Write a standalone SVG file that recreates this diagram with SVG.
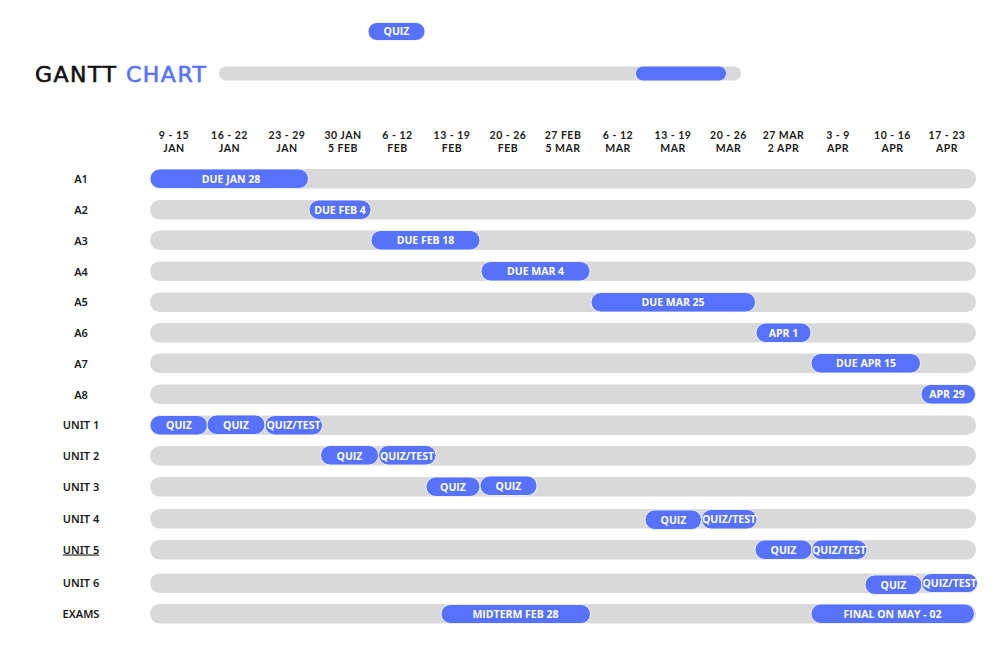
<svg xmlns="http://www.w3.org/2000/svg" width="1000" height="650" viewBox="0 0 1000 650">
<style>
.bg{fill:#d9d9d9}
.pill{fill:#5672fe;stroke:#ffffff;stroke-width:0.8}
.pt{font-family:"Open Sans","Noto Sans",sans-serif;font-weight:700;font-size:10.5px;fill:#ffffff;text-anchor:middle}
.hd{font-family:Lato,"Noto Sans",sans-serif;font-weight:700;font-size:10.5px;letter-spacing:0.5px;fill:#1a1a1a;text-anchor:middle}
.rl{font-family:"Noto Sans",Lato,sans-serif;font-weight:600;font-size:11px;fill:#1a1a1a;text-anchor:middle}
.title{font-family:"DejaVu Sans","Noto Sans",sans-serif;font-weight:400;font-size:22px;stroke-width:0.6}
</style>
<rect width="1000" height="650" fill="#ffffff"/>

<g id="legend-quiz">
  <rect class="pill" x="368" y="22.5" width="57" height="18" rx="9"/>
  <text class="pt" x="396.5" y="35">QUIZ</text>
</g>

<g id="title">
  <text class="title" x="35" y="82" textLength="171" lengthAdjust="spacing"><tspan fill="#111111" stroke="#111111">GANTT</tspan> <tspan fill="#5672fe" stroke="#5672fe">CHART</tspan></text>
  <rect class="bg" x="219" y="66.5" width="522" height="14" rx="7"/>
  <rect fill="#5672fe" x="636" y="66.5" width="90" height="14" rx="7"/>
</g>

<g id="headers">
  <text class="hd" x="174" y="139">9 - 15</text><text class="hd" x="174" y="152">JAN</text>
  <text class="hd" x="229.5" y="139">16 - 22</text><text class="hd" x="229.5" y="152">JAN</text>
  <text class="hd" x="287" y="139">23 - 29</text><text class="hd" x="287" y="152">JAN</text>
  <text class="hd" x="343" y="139">30 JAN</text><text class="hd" x="343" y="152">5 FEB</text>
  <text class="hd" x="397.5" y="139">6 - 12</text><text class="hd" x="397.5" y="152">FEB</text>
  <text class="hd" x="452" y="139">13 - 19</text><text class="hd" x="452" y="152">FEB</text>
  <text class="hd" x="508" y="139">20 - 26</text><text class="hd" x="508" y="152">FEB</text>
  <text class="hd" x="563" y="139">27 FEB</text><text class="hd" x="563" y="152">5 MAR</text>
  <text class="hd" x="618" y="139">6 - 12</text><text class="hd" x="618" y="152">MAR</text>
  <text class="hd" x="673" y="139">13 - 19</text><text class="hd" x="673" y="152">MAR</text>
  <text class="hd" x="728.5" y="139">20 - 26</text><text class="hd" x="728.5" y="152">MAR</text>
  <text class="hd" x="783.5" y="139">27 MAR</text><text class="hd" x="783.5" y="152">2 APR</text>
  <text class="hd" x="838" y="139">3 - 9</text><text class="hd" x="838" y="152">APR</text>
  <text class="hd" x="892.5" y="139">10 - 16</text><text class="hd" x="892.5" y="152">APR</text>
  <text class="hd" x="947" y="139">17 - 23</text><text class="hd" x="947" y="152">APR</text>
</g>

<g id="row-a1">
  <text class="rl" x="81" y="183">A1</text>
  <rect class="bg" x="150" y="169" width="826" height="19.5" rx="9.75"/>
  <rect class="pill" x="150" y="169" width="158.5" height="19.5" rx="9.75"/>
  <text class="pt" x="231" y="182.5">DUE JAN 28</text>
</g>
<g id="row-a2">
  <text class="rl" x="81" y="214">A2</text>
  <rect class="bg" x="150" y="200" width="826" height="19.5" rx="9.75"/>
  <rect class="pill" x="309" y="200" width="62" height="19.5" rx="9.75"/>
  <text class="pt" x="340" y="213.5">DUE FEB 4</text>
</g>
<g id="row-a3">
  <text class="rl" x="81" y="244.5">A3</text>
  <rect class="bg" x="150" y="230.5" width="826" height="19.5" rx="9.75"/>
  <rect class="pill" x="371" y="230.5" width="109" height="19.5" rx="9.75"/>
  <text class="pt" x="425.5" y="244">DUE FEB 18</text>
</g>
<g id="row-a4">
  <text class="rl" x="81" y="275.5">A4</text>
  <rect class="bg" x="150" y="261.5" width="826" height="19.5" rx="9.75"/>
  <rect class="pill" x="481" y="261.5" width="109" height="19.5" rx="9.75"/>
  <text class="pt" x="535.5" y="275">DUE MAR 4</text>
</g>
<g id="row-a5">
  <text class="rl" x="81" y="306">A5</text>
  <rect class="bg" x="150" y="292.5" width="826" height="19.5" rx="9.75"/>
  <rect class="pill" x="591" y="292.5" width="164.5" height="19.5" rx="9.75"/>
  <text class="pt" x="673" y="306">DUE MAR 25</text>
</g>
<g id="row-a6">
  <text class="rl" x="81" y="337">A6</text>
  <rect class="bg" x="150" y="323" width="826" height="19.5" rx="9.75"/>
  <rect class="pill" x="756" y="323" width="55" height="19.5" rx="9.75"/>
  <text class="pt" x="783.5" y="336.5">APR 1</text>
</g>
<g id="row-a7">
  <text class="rl" x="81" y="367.5">A7</text>
  <rect class="bg" x="150" y="353.5" width="826" height="19.5" rx="9.75"/>
  <rect class="pill" x="811" y="353.5" width="109.5" height="19.5" rx="9.75"/>
  <text class="pt" x="866" y="367">DUE APR 15</text>
</g>
<g id="row-a8">
  <text class="rl" x="81" y="398.5">A8</text>
  <rect class="bg" x="150" y="384.5" width="826" height="19.5" rx="9.75"/>
  <rect class="pill" x="921" y="384.5" width="54.5" height="19.5" rx="9.75"/>
  <text class="pt" x="947" y="398">APR 29</text>
</g>
<g id="row-unit1">
  <text class="rl" x="81" y="429">UNIT 1</text>
  <rect class="bg" x="150" y="415.5" width="826" height="19.5" rx="9.75"/>
  <rect class="pill" x="150" y="415.5" width="57.5" height="19.5" rx="9.75"/>
  <text class="pt" x="179" y="429">QUIZ</text>
  <rect class="pill" x="207" y="415" width="58" height="19.5" rx="9.75"/>
  <text class="pt" x="236" y="428.5">QUIZ</text>
  <rect class="pill" x="265" y="415.5" width="57.5" height="19.5" rx="9.75"/>
  <text class="pt" x="293.5" y="429">QUIZ/TEST</text>
</g>
<g id="row-unit2">
  <text class="rl" x="81" y="460">UNIT 2</text>
  <rect class="bg" x="150" y="446" width="826" height="19.5" rx="9.75"/>
  <rect class="pill" x="320.5" y="445.5" width="58" height="19.5" rx="9.75"/>
  <text class="pt" x="349.5" y="459.5">QUIZ</text>
  <rect class="pill" x="378.5" y="445.5" width="57.5" height="19.5" rx="9.75"/>
  <text class="pt" x="407" y="459.5">QUIZ/TEST</text>
</g>
<g id="row-unit3">
  <text class="rl" x="81" y="490.5">UNIT 3</text>
  <rect class="bg" x="150" y="477" width="826" height="19.5" rx="9.75"/>
  <rect class="pill" x="426" y="477" width="54" height="19.5" rx="9.75"/>
  <text class="pt" x="453" y="490.5">QUIZ</text>
  <rect class="pill" x="480" y="476" width="57" height="19.5" rx="9.75"/>
  <text class="pt" x="508.5" y="489.5">QUIZ</text>
</g>
<g id="row-unit4">
  <text class="rl" x="81" y="523">UNIT 4</text>
  <rect class="bg" x="150" y="509" width="826" height="19.5" rx="9.75"/>
  <rect class="pill" x="645" y="510" width="56.5" height="19.5" rx="9.75"/>
  <text class="pt" x="673.5" y="523.5">QUIZ</text>
  <rect class="pill" x="701.5" y="509.5" width="55.5" height="19.5" rx="9.75"/>
  <text class="pt" x="729" y="523">QUIZ/TEST</text>
</g>
<g id="row-unit5">
  <text class="rl" x="81" y="553.5" text-decoration="underline">UNIT 5</text>
  <rect class="bg" x="150" y="540" width="826" height="19.5" rx="9.75"/>
  <rect class="pill" x="755" y="540" width="57" height="19.5" rx="9.75"/>
  <text class="pt" x="783.5" y="553.5">QUIZ</text>
  <rect class="pill" x="811.5" y="540" width="55.5" height="19.5" rx="9.75"/>
  <text class="pt" x="839" y="553.5">QUIZ/TEST</text>
</g>
<g id="row-unit6">
  <text class="rl" x="81" y="587">UNIT 6</text>
  <rect class="bg" x="150" y="573.5" width="826" height="19.5" rx="9.75"/>
  <rect class="pill" x="865" y="575" width="57" height="19.5" rx="9.75"/>
  <text class="pt" x="893.5" y="588.5">QUIZ</text>
  <rect class="pill" x="921.5" y="573.5" width="56" height="19" rx="9.5"/>
  <text class="pt" x="949.5" y="586.5">QUIZ/TEST</text>
</g>
<g id="row-exams">
  <text class="rl" x="81" y="618">EXAMS</text>
  <rect class="bg" x="150" y="604" width="826" height="19.5" rx="9.75"/>
  <rect class="pill" x="441" y="604.5" width="149.5" height="19" rx="9.5"/>
  <text class="pt" x="515.5" y="617.5">MIDTERM FEB 28</text>
  <rect class="pill" x="811" y="604" width="163.5" height="19.5" rx="9.75"/>
  <text class="pt" x="892.5" y="617.5">FINAL ON MAY - 02</text>
</g>
</svg>
